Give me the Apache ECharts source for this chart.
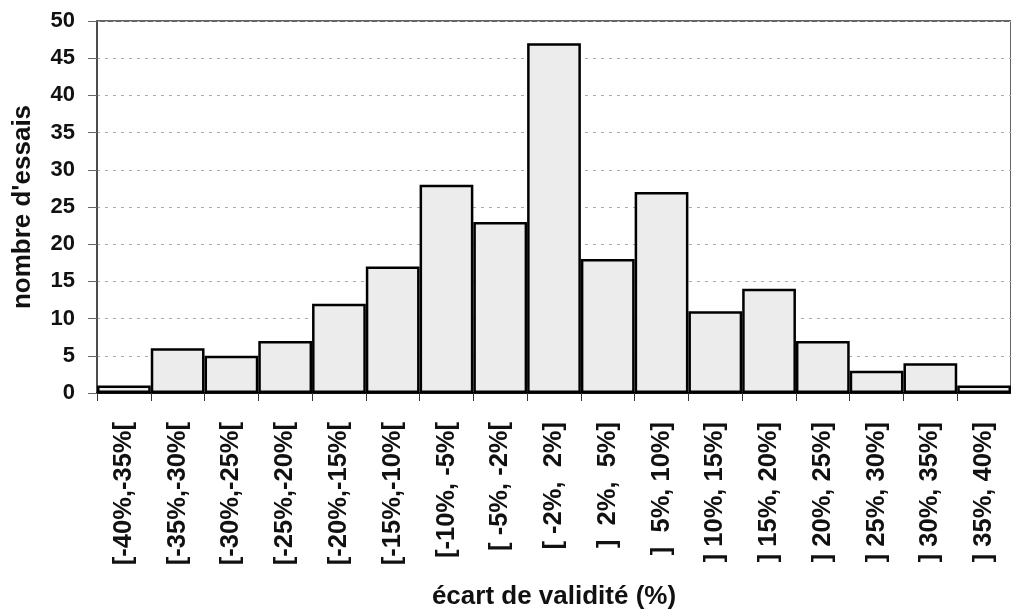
<!DOCTYPE html>
<html>
<head>
<meta charset="utf-8">
<script src="https://cdn.jsdelivr.net/npm/echarts@6/dist/echarts.min.js"></script>
<style>
  html, body { margin: 0; padding: 0; background: #fff; }
  #chart { width: 1011px; height: 615px; }
</style>
</head>
<body>
<div id="chart"></div>
<script>
// classes d'écart de validité
var classes = ['[-40%,-35%[', '[-35%,-30%[', '[-30%,-25%[', '[-25%,-20%[', '[-20%,-15%[', '[-15%,-10%[',
    '[-10%, -5%[', '[ -5%, -2%[', '[ -2%,  2%]', ']  2%,  5%]', ']  5%, 10%]', '] 10%, 15%]',
    '] 15%, 20%]', '] 20%, 25%]', '] 25%, 30%]', '] 30%, 35%]', '] 35%, 40%]'];
// nombre d'essais par classe
var essais = [1, 6, 5, 7, 12, 17, 28, 23, 47, 18, 27, 11, 14, 7, 3, 4, 1];

var chart = echarts.init(document.getElementById('chart'));

var option = {
    backgroundColor: '#fff',
    animation: false,
    textStyle: { fontFamily: 'Liberation Sans, Arial, sans-serif', color: '#111' },
    grid: {
        left: 97,
        right: -10,
        top: 21,
        bottom: 222,
        show: true,
        borderColor: '#333',
        borderWidth: 1.5
    },
    xAxis: {
        type: 'category',
        data: classes,
        name: 'écart de validité (%)',
        nameLocation: 'middle',
        nameGap: 191,
        nameTextStyle: { fontSize: 26, fontWeight: 'bold', color: '#111' },
        axisLine: { lineStyle: { color: '#111', width: 2 } },
        axisTick: { show: true, length: 8, lineStyle: { color: '#333' } },
        axisLabel: {
            rotate: 90,
            interval: 0,
            margin: 29,
            fontSize: 25.5,
            fontWeight: 'bold',
            color: '#111'
        }
    },
    yAxis: {
        type: 'value',
        min: 0,
        max: 50,
        interval: 5,
        name: "nombre d'essais",
        nameLocation: 'middle',
        nameGap: 61,
        nameTextStyle: { fontSize: 26, fontWeight: 'bold', color: '#111' },
        axisLine: { show: true, lineStyle: { color: '#444', width: 1.5 } },
        axisTick: { show: true, length: 9, lineStyle: { color: '#666' } },
        axisLabel: { fontSize: 22, fontWeight: 'bold', color: '#111', margin: 22 },
        splitLine: { show: true, lineStyle: { color: '#aaa', width: 1, type: [3, 5] } }
    },
    series: [{
        type: 'bar',
        data: essais,
        barCategoryGap: '0%',
        itemStyle: {
            color: '#ececec',
            borderColor: '#000',
            borderWidth: 2.5
        }
    }]
};

chart.setOption(option);
</script>
</body>
</html>
